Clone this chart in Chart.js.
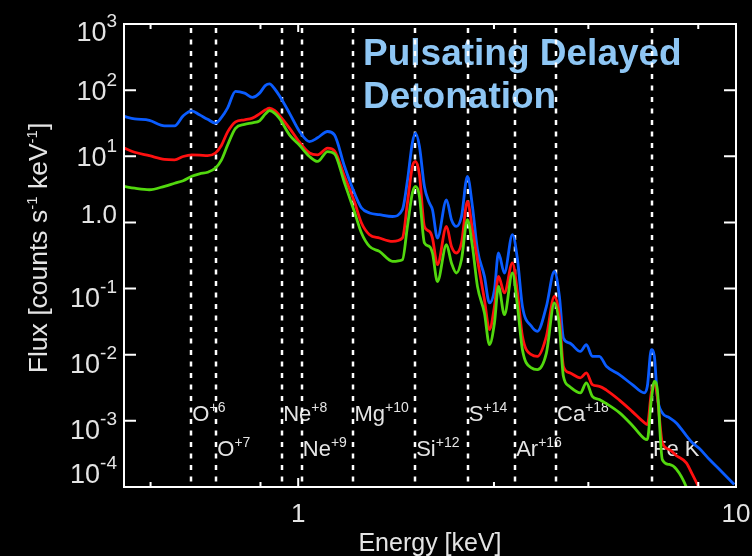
<!DOCTYPE html>
<html lang="en">
<head>
  <meta charset="UTF-8">
  <title>Pulsating Delayed Detonation</title>
  <script src="https://cdn.jsdelivr.net/npm/chart.js@4"></script>
  <style>
    html, body { margin: 0; padding: 0; background: #000; }
    canvas { display: block; }
  </style>
</head>
<body>
  <canvas id="spec" width="752" height="556"></canvas>
  <script>
    // energy grid [keV] and model spectra [counts s-1 keV-1]
    const energy = [0.40, 0.423, 0.457, 0.495, 0.522, 0.546, 0.571, 0.595, 0.621, 0.647,
      0.668, 0.690, 0.719, 0.754, 0.786, 0.816, 0.842, 0.860, 0.883, 0.906,
      0.955, 1.007, 1.061, 1.107, 1.167, 1.210, 1.276, 1.344, 1.394, 1.455,
      1.533, 1.642, 1.730, 1.776, 1.823, 1.853, 1.892, 1.942, 1.994, 2.026,
      2.080, 2.181, 2.239, 2.298, 2.360, 2.435, 2.50, 2.567, 2.663, 2.734,
      2.807, 2.867, 2.958, 3.085, 3.169, 3.252, 3.41, 3.518, 3.689, 3.847,
      3.950, 4.034, 4.163, 4.411, 4.552, 4.697, 4.874, 5.057, 5.415, 5.798,
      6.174, 6.273, 6.406, 6.509, 6.611, 6.787, 7.04, 7.306, 7.70, 7.95,
      8.25, 8.70, 9.17, 9.91];
    const fluxBlue = [40, 36.8, 35.0, 28.9, 28.9, 40.9, 48.7, 42.4, 36.2, 31.7,
      38.8, 54.0, 95.9, 90.1, 77.8, 90.1, 118, 124, 105, 82,
      45, 23.7, 16.7, 19.0, 23.7, 21.1, 7.0, 2.78, 1.67, 1.39,
      1.31, 1.23, 1.56, 4.27, 16.0, 22.4, 14.1, 3.50, 1.96, 1.56,
      0.581, 2.20, 1.10, 0.87, 1.23, 4.95, 1.75, 0.387, 0.153, 0.0606,
      0.0962, 0.345, 0.172, 0.652, 0.273, 0.0538, 0.0269, 0.0226, 0.0538, 0.182,
      0.0762, 0.0179, 0.0151, 0.0112, 0.0142, 0.00946, 0.00946, 0.00668, 0.0050, 0.00353,
      0.00265, 0.00333, 0.0119, 0.00946, 0.00235, 0.00132, 0.00112, 0.00093, 0.0006, 0.000466,
      0.000382, 0.00026, 0.000184, 0.000109];
    const fluxRed = [13.3, 11.5, 10.2, 9.0, 8.85, 9.93, 10.5, 10.4, 10.2, 11.2,
      14.7, 23.4, 33.2, 35.6, 37.8, 43.8, 50.4, 53.5, 49.5, 41.6,
      26.7, 16.3, 11.2, 10.5, 13.3, 12.1, 4.95, 2.05, 0.99, 0.652,
      0.581, 0.516, 0.581, 1.96, 7.0, 8.35, 5.26, 0.87, 0.731, 0.581,
      0.230, 0.87, 0.434, 0.345, 0.489, 2.08, 0.776, 0.273, 0.068, 0.024,
      0.0538, 0.153, 0.0859, 0.244, 0.0859, 0.019, 0.010, 0.00946, 0.019, 0.0762,
      0.038, 0.00668, 0.00537, 0.00447, 0.00531, 0.00353, 0.00333, 0.00292, 0.00206, 0.00138,
      0.00094, 0.00088, 0.00265, 0.00375, 0.00235, 0.00047, 0.000368, 0.000299, 0.000232, 0.000155,
      0.000095, 0.00005, 0.00003, 0.00002];
    const fluxGreen = [3.50, 3.29, 3.12, 3.52, 3.91, 4.27, 4.99, 5.44, 5.73, 6.63,
      8.85, 14.9, 26.5, 30.4, 32.1, 34.4, 43.8, 49.2, 45.0, 37.5,
      21.1, 14.7, 9.93, 8.35, 11.8, 10.9, 3.94, 1.45, 0.699, 0.434,
      0.365, 0.258, 0.273, 0.87, 2.78, 3.5, 2.47, 0.489, 0.434, 0.345,
      0.128, 0.461, 0.244, 0.172, 0.273, 1.10, 0.434, 0.108, 0.0428, 0.0142,
      0.0302, 0.108, 0.0403, 0.172, 0.0538, 0.0119, 0.00632, 0.00596, 0.0106, 0.0606,
      0.0269, 0.00472, 0.00333, 0.00265, 0.00375, 0.00235, 0.0021, 0.00182, 0.00133, 0.00085,
      0.00054, 0.000522, 0.0021, 0.00396, 0.00297, 0.00026, 0.000219, 0.000187, 0.0001, 0.00005,
      0.00003, 0.00002, 0.00002, 0.00001];

    // ion line markers
    const lineEnergies = [0.570, 0.650, 0.919, 1.019, 1.337, 1.85, 2.44, 3.13, 3.88, 6.43];
    const lineIons = ['O', 'O', 'Ne', 'Ne', 'Mg', 'Si', 'S', 'Ar', 'Ca', 'Fe K'];
    const lineCharges = ['+6', '+7', '+8', '+9', '+10', '+12', '+14', '+16', '+18', ''];
    const lineRow = [0, 1, 0, 1, 0, 1, 0, 1, 0, 1];

    // axes
    const yDecades = [3, 2, 1, 0, -1, -2, -3, -4];
    const xMajorTicks = [1, 10];
    const xMinorTicks = [0.46, 0.82, 2.8, 4.6, 8.2];
    const titleLines = ['Pulsating Delayed', 'Detonation'];

    const FONT = '"Liberation Sans", Arial, Helvetica, sans-serif';
    const TXT = '#e4e4e4';

    function drawSup(ctx, x, y, base, sup, bf, sf, rise) {
      ctx.font = bf;
      ctx.fillText(base, x, y);
      const w = ctx.measureText(base).width;
      if (sup) {
        ctx.font = sf;
        ctx.fillText(sup, x + w, y - rise);
      }
    }
    function supWidth(ctx, base, sup, bf, sf) {
      ctx.font = bf;
      let w = ctx.measureText(base).width;
      if (sup) { ctx.font = sf; w += ctx.measureText(sup).width; }
      return w;
    }

    const underlay = {
      id: 'underlay',
      beforeDatasetsDraw(chart) {
        const { ctx, chartArea: a, scales: { x } } = chart;
        ctx.save();
        ctx.textAlign = 'left';
        ctx.textBaseline = 'alphabetic';
        // title
        ctx.fillStyle = '#8ec6f4';
        ctx.font = 'bold 37px ' + FONT;
        ctx.fillText(titleLines[0], 363, 65);
        ctx.fillText(titleLines[1], 363, 108);
        // ion labels
        ctx.fillStyle = TXT;
        lineEnergies.forEach((e, i) => {
          const px = x.getPixelForValue(e) + 1;
          const by = lineRow[i] === 0 ? 421 : 456;
          drawSup(ctx, px, by, lineIons[i], lineCharges[i], '22px ' + FONT, '14px ' + FONT, 9);
        });
        // dotted lines
        ctx.strokeStyle = '#ffffff';
        ctx.lineWidth = 2.5;
        ctx.setLineDash([5, 6.5]);
        lineEnergies.forEach(e => {
          const px = Math.round(x.getPixelForValue(e));
          ctx.beginPath();
          ctx.moveTo(px, a.top + 4);
          ctx.lineTo(px, a.bottom);
          ctx.stroke();
        });
        ctx.restore();
      }
    };

    const frame = {
      id: 'frame',
      afterDatasetsDraw(chart) {
        const { ctx, chartArea: a, scales: { x, y } } = chart;
        ctx.save();
        ctx.strokeStyle = '#ffffff';
        ctx.lineWidth = 2;
        ctx.strokeRect(a.left, a.top, a.right - a.left, a.bottom - a.top);
        ctx.beginPath();
        yDecades.forEach(d => {
          const py = y.getPixelForValue(Math.pow(10, d));
          ctx.moveTo(a.left, py); ctx.lineTo(a.left + 12, py);
          ctx.moveTo(a.right, py); ctx.lineTo(a.right - 12, py);
        });
        xMajorTicks.forEach(v => {
          const px = x.getPixelForValue(v);
          ctx.moveTo(px, a.bottom); ctx.lineTo(px, a.bottom - 9);
          ctx.moveTo(px, a.top); ctx.lineTo(px, a.top + 8);
        });
        xMinorTicks.forEach(v => {
          const px = x.getPixelForValue(v);
          ctx.moveTo(px, a.bottom); ctx.lineTo(px, a.bottom - 5);
          ctx.moveTo(px, a.top); ctx.lineTo(px, a.top + 5);
        });
        ctx.stroke();

        ctx.fillStyle = TXT;
        ctx.textBaseline = 'alphabetic';
        // y tick labels
        ctx.textAlign = 'left';
        yDecades.forEach(d => {
          const py = y.getPixelForValue(Math.pow(10, d));
          if (d === 0) {
            ctx.font = '26px ' + FONT;
            ctx.textAlign = 'right';
            ctx.fillText('1.0', 117, py + 0.5);
            ctx.textAlign = 'left';
            return;
          }
          const sup = String(d);
          const bf = '27px ' + FONT, sf = '19px ' + FONT;
          let by = py + (d > 0 ? 9.5 : 18);
          by = Math.min(Math.max(by, 41), 483);
          const w = supWidth(ctx, '10', sup, bf, sf);
          drawSup(ctx, 117 - w, by, '10', sup, bf, sf, 14);
        });
        // x tick labels
        ctx.textAlign = 'center';
        ctx.font = '26px ' + FONT;
        xMajorTicks.forEach(v => {
          ctx.fillText(String(v), x.getPixelForValue(v), 522);
        });
        // x title
        ctx.font = '25px ' + FONT;
        ctx.fillText('Energy [keV]', (a.left + a.right) / 2, 551);
        // y title
        ctx.translate(47, 248);
        ctx.rotate(-Math.PI / 2);
        ctx.textAlign = 'left';
        const parts = [['Flux [counts s', '-1'], [' keV', '-1'], [']', '']];
        const bf = '26.5px ' + FONT, sf = '15px ' + FONT;
        let total = 0;
        parts.forEach(p => { total += supWidth(ctx, p[0], p[1], bf, sf); });
        let cx = -total / 2;
        parts.forEach(p => {
          drawSup(ctx, cx, 0, p[0], p[1], bf, sf, 10);
          cx += supWidth(ctx, p[0], p[1], bf, sf);
        });
        ctx.restore();
      }
    };

    const toPoints = vals => energy.map((e, i) => ({ x: e, y: vals[i] }));

    new Chart(document.getElementById('spec'), {
      type: 'line',
      data: {
        datasets: [
          { label: 'green', data: toPoints(fluxGreen), borderColor: '#52d80e' },
          { label: 'red', data: toPoints(fluxRed), borderColor: '#ff1010' },
          { label: 'blue', data: toPoints(fluxBlue), borderColor: '#0a5cff' }
        ]
      },
      options: {
        responsive: false,
        devicePixelRatio: 1,
        animation: false,
        parsing: false,
        layout: { padding: { left: 124, top: 24, right: 16, bottom: 69 } },
        elements: {
          point: { radius: 0 },
          line: { borderWidth: 2.8, cubicInterpolationMode: 'monotone', borderJoinStyle: 'round' }
        },
        scales: {
          x: { type: 'logarithmic', min: 0.4, max: 10, display: false },
          y: { type: 'logarithmic', min: 1e-4, max: 1e3, display: false }
        },
        plugins: { legend: { display: false }, tooltip: { enabled: false } }
      },
      plugins: [underlay, frame]
    });
  </script>
</body>
</html>
